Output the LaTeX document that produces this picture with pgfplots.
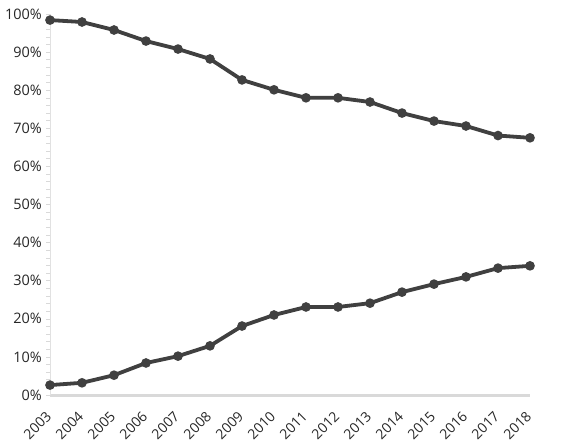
\documentclass[border=0pt]{standalone}
\usepackage{pgfplots}
\pgfplotsset{compat=1.18}
\usepackage{fontspec}
\setmainfont{Open Sans}
\definecolor{lineg}{HTML}{404040}
\definecolor{axg}{HTML}{D9D9D9}
\begin{document}
\begin{tikzpicture}
\begin{axis}[
    name=ax,
    scale only axis,
    width=480bp, height=381bp,
    xmin=2003, xmax=2018,
    ymin=0, ymax=100,
    axis lines=left,
    axis line style={-},
    x axis line style={axg, line width=3bp},
    y axis line style={axg!80!white, line width=0.8bp},
    xtick={2003,...,2018},
    ytick={0,10,...,100},
    minor y tick num=4,
    xtick style={draw=none},
    ytick style={axg, line width=0.6bp},
    tick align=outside,
    major tick length=4bp,
    minor tick length=4bp,
    yticklabel={\pgfmathprintnumber{\tick}\%},
    /pgf/number format/assume math mode=true,
    /pgf/number format/1000 sep={},
    tick label style={text=black!85},
    yticklabel style={font=\fontsize{14.5}{17}\selectfont, inner sep=2bp, xshift=-2bp},
    xticklabel style={font=\fontsize{14}{16}\selectfont, rotate=45, anchor=north east, inner sep=1bp, xshift=-10.4bp, yshift=-3.4bp},
    clip=false,
]
\addplot[lineg, line width=3.8bp, mark=*, mark size=2.8bp, mark options={lineg}] coordinates {
(2003,98.4) (2004,97.9) (2005,95.8) (2006,92.9) (2007,90.8) (2008,88.2)
(2009,82.7) (2010,80.1) (2011,78.0) (2012,78.0) (2013,76.9) (2014,74.0)
(2015,71.9) (2016,70.6) (2017,68.1) (2018,67.5)};
\addplot[lineg, line width=3.8bp, mark=*, mark size=2.8bp, mark options={lineg}] coordinates {
(2003,2.6) (2004,3.2) (2005,5.2) (2006,8.4) (2007,10.2) (2008,12.9)
(2009,18.1) (2010,21.0) (2011,23.1) (2012,23.1) (2013,24.1) (2014,27.0)
(2015,29.1) (2016,31.0) (2017,33.3) (2018,33.9)};
\end{axis}
\pgfresetboundingbox
\path[use as bounding box] ([xshift=-50bp,yshift=-49bp]ax.south west) rectangle ([xshift=31bp,yshift=14bp]ax.north east);
\end{tikzpicture}
\end{document}
